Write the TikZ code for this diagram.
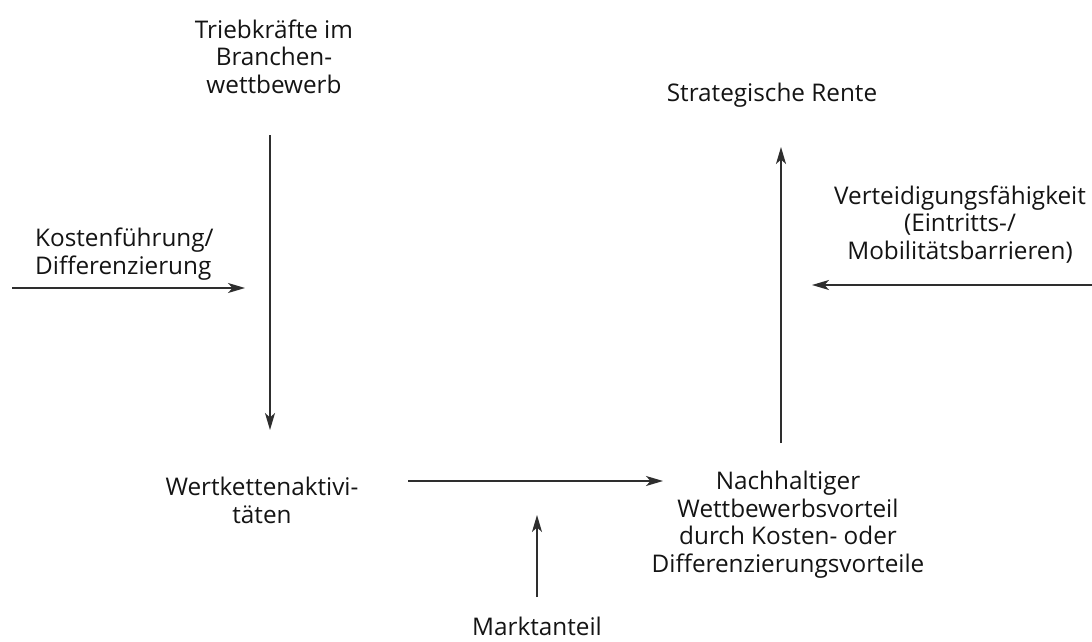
\documentclass[tikz,border=0pt]{standalone}
\usepackage{fontspec}
\setmainfont{Open Sans}
\usetikzlibrary{arrows.meta}
\begin{document}
\begin{tikzpicture}[x=1pt,y=-1pt,
  % multi-line labels: the base anchor sits on the last line
  lbl/.style={align=center,inner sep=0pt,anchor=base,
    font=\fontsize{24.3}{27.4}\selectfont,text=black!92},
  flow/.style={line width=1.6pt,draw=black!82,
    -{Stealth[length=17pt,width=10pt,inset=4.5pt]}}]
\useasboundingbox (0,0) rectangle (1092,642);
\fill[white] (0,0) rectangle (1092,642);

% labels
\node[lbl] (trieb) at (274,93) {Triebkräfte im\\Branchen-\\wettbewerb};
\node[lbl,align=left,anchor=base west] (kosten) at (35,274) {Kostenführung/\\Differenzierung};
\node[lbl] (rente) at (772,101) {Strategische Rente};
\node[lbl] (vert) at (960,259) {Verteidigungsfähigkeit\\(Eintritts-/\\Mobilitätsbarrieren)};
\node[lbl] (wert) at (262,523) {Wertkettenaktivi-\\täten};
\node[lbl] (vorteil) at (788,572) {Nachhaltiger\\Wettbewerbsvorteil\\durch Kosten- oder\\Differenzierungsvorteile};
\node[lbl] (markt) at (537,635) {Marktanteil};

% arrow end points
\coordinate (trieb-s) at (270,135);
\coordinate (wert-n) at (270,430);
\coordinate (kosten-s) at (12,288);
\coordinate (kosten-e) at (245,288);
\coordinate (wert-e) at (408,481);
\coordinate (vorteil-w) at (663,481);
\coordinate (vorteil-n) at (781,443);
\coordinate (rente-s) at (781,147);
\coordinate (vert-s) at (1092,285);
\coordinate (vert-e) at (812,285);
\coordinate (markt-n) at (537,597);
\coordinate (markt-t) at (537,515);

% connectors
\draw[flow] (trieb-s) -- (wert-n);
\draw[flow] (kosten-s) -- (kosten-e);
\draw[flow] (wert-e) -- (vorteil-w);
\draw[flow] (vorteil-n) -- (rente-s);
\draw[flow] (vert-s) -- (vert-e);
\draw[flow] (markt-n) -- (markt-t);
\end{tikzpicture}
\end{document}
